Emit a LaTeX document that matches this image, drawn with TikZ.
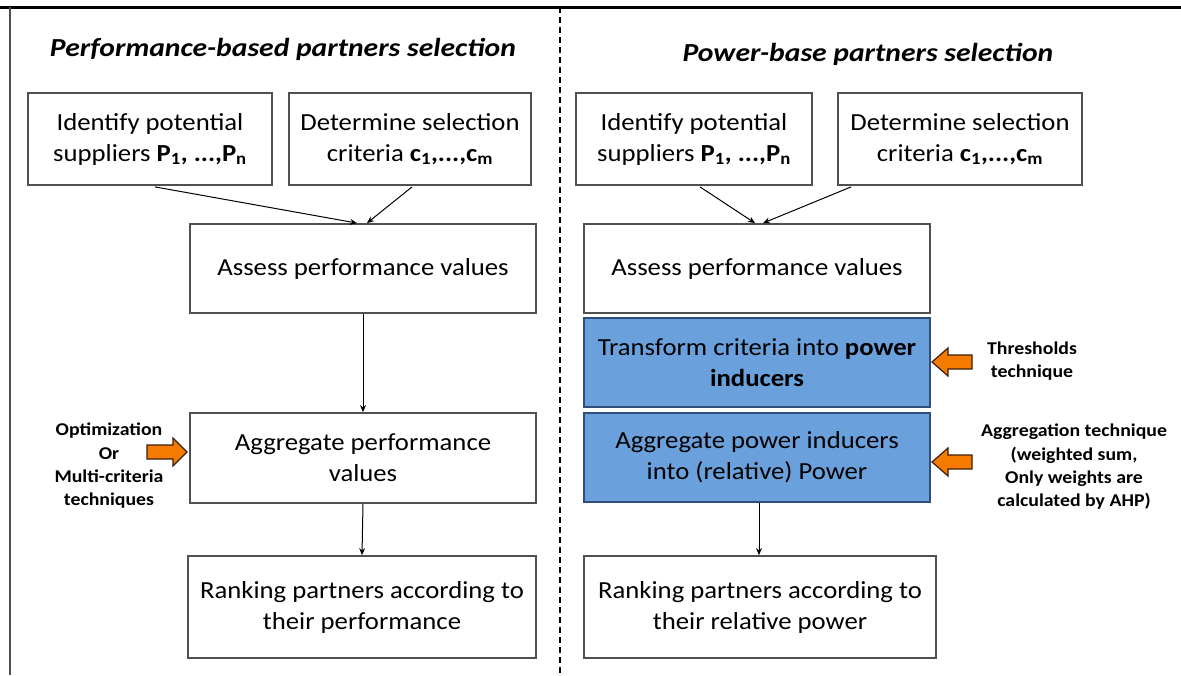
\documentclass[tikz,border=0pt]{standalone}
\usepackage{fontspec}
\setmainfont{Carlito}[FakeStretch=1.09]
\newfontfamily\titlefont{Carlito}[FakeStretch=1.14]
\newfontfamily\labelfont{Carlito}[FakeStretch=1.10]
\usetikzlibrary{arrows.meta,calc}
\definecolor{boxline}{RGB}{80,80,80}
\definecolor{bluefill}{HTML}{6AA0DC}
\definecolor{blueline}{HTML}{2F4F7A}
\definecolor{orangefill}{HTML}{F57A00}
\definecolor{orangeline}{HTML}{3A1E0A}
\tikzset{
  stepbox/.style={draw=boxline, line width=1.8pt, fill=white, align=center, inner sep=0pt,
    font=\fontsize{24.5}{31}\selectfont},
  bluebox/.style={stepbox, draw=blueline, fill=bluefill},
  conn/.style={draw=black, line width=1pt, -{Stealth[length=7pt,width=6pt]}},
  titletext/.style={font=\titlefont\fontsize{26}{30}\selectfont\bfseries\itshape},
  sidelabel/.style={align=center, font=\labelfont\fontsize{18}{23.3}\selectfont\bfseries},
  blockarrow/.style={draw=orangeline, line width=1.2pt, fill=orangefill, line join=miter}
}
\begin{document}
\begin{tikzpicture}[x=1pt,y=-1pt]
\useasboundingbox (0,0) rectangle (1181,675);
% frame
\draw[line width=3pt, black] (0,7) -- (1181,7);
\draw[line width=2pt, boxline] (10,7) -- (10,675);
\draw[line width=2pt, black, dash pattern=on 6pt off 4pt] (560,7) -- (560,675);

% titles
\node[titletext] (tL) at (283,49) {Performance-based partners selection};
\node[titletext] (tR) at (868,54) {Power-base partners selection};

% left column
\node[stepbox, minimum width=244, minimum height=92] (L1) at (150,139) {Identify potential\\suppliers \textbf{P\textsubscript{1}, ...,P\textsubscript{n}}};
\node[stepbox, minimum width=242, minimum height=92] (L2) at (410,139) {Determine selection\\criteria \textbf{c\textsubscript{1},...,c\textsubscript{m}}};
\node[stepbox, minimum width=346, minimum height=89] (L3) at (363,268.5) {Assess performance values};
\node[stepbox, minimum width=346, minimum height=90] (L4) at (363,458) {Aggregate performance\\values};
\node[stepbox, minimum width=348, minimum height=102] (L5) at (362,607) {Ranking partners according to\\their performance};

% right column
\node[stepbox, minimum width=236, minimum height=92] (R1) at (694,139) {Identify potential\\suppliers \textbf{P\textsubscript{1}, ...,P\textsubscript{n}}};
\node[stepbox, minimum width=244, minimum height=92] (R2) at (960,139) {Determine selection\\criteria \textbf{c\textsubscript{1},...,c\textsubscript{m}}};
\node[stepbox, minimum width=346, minimum height=89] (R3) at (757,268.5) {Assess performance values};
\node[bluebox, minimum width=346, minimum height=89] (R4) at (757,362.5) {Transform criteria into \textbf{power}\\\textbf{inducers}};
\node[bluebox, minimum width=346, minimum height=89] (R5) at (757,457.5) {Aggregate power inducers\\into (relative) Power};
\node[stepbox, minimum width=352, minimum height=102] (R6) at (760,607) {Ranking partners according to\\their relative power};

% connectors left
\draw[conn] ($(L1.south)+(5,1)$) -- ($(L3.north)+(-6,0)$);
\draw[conn] ($(L2.south)+(2,1)$) -- ($(L3.north)+(4,0)$);
\draw[conn] (L3.south) -- (L4.north);
\draw[conn] (L4.south) -- (L5.north);

% connectors right
\draw[conn] ($(R1.south)+(6,1)$) -- ($(R3.north)+(-2,0)$);
\draw[conn] ($(R2.south west)+(14,1)$) -- ($(R3.north)+(6,0)$);
\draw[conn] ($(R5.south)+(2,0)$) -- ($(R6.north)+(-1,0)$);

% side labels
\node[sidelabel] (lblL) at (109,466) {Optimization\\Or\\Multi-criteria\\techniques};
\node[sidelabel] (lblR1) at (1032,361) {Thresholds\\technique};
\node[sidelabel] (lblR2) at (1074,467) {Aggregation technique\\(weighted sum,\\Only weights are\\calculated by AHP)};

% orange block arrows
\coordinate (oL) at (187,452);
\coordinate (oR1) at (932,362);
\coordinate (oR2) at (932,462);
\draw[blockarrow] (oL) -- ++(-14,-14) -- ++(0,7) -- ++(-26,0) -- ++(0,14) -- ++(26,0) -- ++(0,7) -- cycle;
\draw[blockarrow] (oR1) -- ++(16,-14) -- ++(0,7) -- ++(24,0) -- ++(0,14) -- ++(-24,0) -- ++(0,7) -- cycle;
\draw[blockarrow] (oR2) -- ++(16,-14) -- ++(0,7) -- ++(24,0) -- ++(0,14) -- ++(-24,0) -- ++(0,7) -- cycle;
\end{tikzpicture}
\end{document}
